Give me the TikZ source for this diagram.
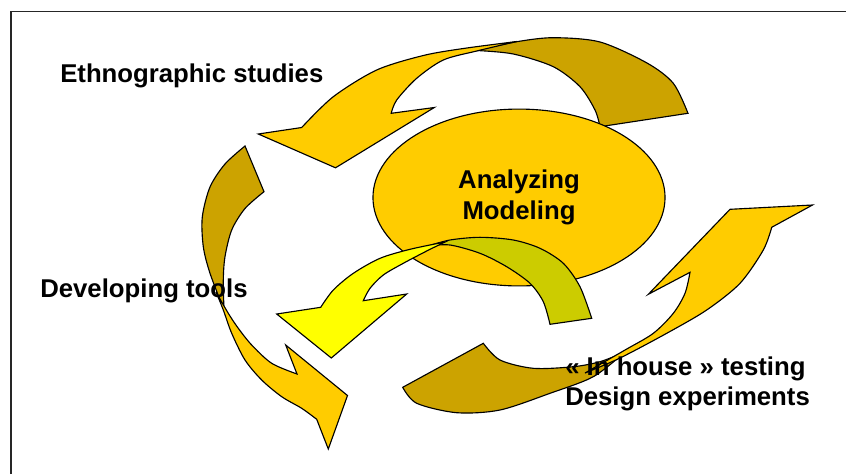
\documentclass[tikz,border=0pt]{standalone}
\usepackage{fontspec}
\setmainfont{Liberation Sans}
\usepackage{tikz}
\usetikzlibrary{shapes.geometric}

\definecolor{gold}{RGB}{255,204,0}
\definecolor{darkgold}{RGB}{204,163,0}
\definecolor{lemon}{RGB}{255,255,0}
\definecolor{darklemon}{RGB}{204,204,0}

\begin{document}
\begin{tikzpicture}[x=0.025cm,y=-0.025cm]
    \tikzstyle{outline}=[draw=black, line width=0.8pt, line join=miter]
    \tikzstyle{front}=[outline, fill=gold]
    \tikzstyle{back}=[outline, fill=darkgold]
    \tikzstyle{frontyellow}=[outline, fill=lemon]
    \tikzstyle{backyellow}=[outline, fill=darklemon]
    \tikzstyle{phasetext}=[
      inner sep=0pt,
      font=\bfseries\fontsize{18.3}{21.5}\selectfont,
    ]
    \tikzstyle{core}=[
      ellipse,
      outline,
      fill=gold,
      inner sep=0pt,
      minimum width=7.3cm,
      minimum height=4.42cm,
      align=center,
      phasetext,
    ]

    \useasboundingbox (0,0) rectangle (846,474);

    % frame
    \coordinate (frameBottom) at (11,474);
    \coordinate (frameCorner) at (11,11.7);
    \coordinate (frameRight) at (846,11.7);
    \draw[line width=1pt, draw=black!85] (frameBottom) -- (frameCorner) -- (frameRight);

    % ethnographic arrow (top)
    {
      \filldraw[back] plot[smooth] coordinates {(476.7,50) (516.7,41.7) (553.3,37.7) (600,42) (647,63) (673.3,83.3) (688,113.3)}
        -- (600,126.7)
        -- plot[smooth] coordinates {(600,126.7) (595,110) (580,86.7) (553.3,66.7) (513.3,54) (476.7,50.5)} -- cycle;
      \filldraw[front] plot[smooth] coordinates {(516.7,41.5) (463.3,48.5) (423.3,55.5) (376.7,70) (333.3,96.7) (301.7,127.5)}
        -- (258.3,134) -- (335.5,167.8) -- (434.3,107.5) -- (391.2,113.3)
        -- plot[smooth] coordinates {(391.2,113.3) (396.7,100) (416.7,78.3) (443.3,60) (476.7,51) (516.7,41.5)} -- cycle;
    }

    % analyzing / modeling
    \node[core] (analysis) at (519,197.5) {Analyzing\\Modeling};

    % developing arrow (left)
    {
      \filldraw[back] plot[smooth] coordinates {(245,146) (225,164) (210,187) (202.3,217) (203.3,246.7) (210,273.3) (224,310)}
        -- plot[smooth] coordinates {(224,310) (223.3,280) (225,256.7) (231.7,230) (245,208.5) (264,191.7)} -- cycle;
      \filldraw[front] plot[smooth] coordinates {(216,292) (223.3,310) (231.7,333.3) (245,360) (261.7,380) (281.7,396.7) (301.7,408.3) (316.7,419.3)}
        -- (328.3,449) -- (347.5,395.5) -- (285.7,345) -- (297,374)
        -- plot[smooth] coordinates {(297,374) (271.7,363.3) (251.7,345) (238.3,328.3) (228.3,313.3) (216,292)} -- cycle;
    }

    % feedback arrow (centre)
    {
      \filldraw[backyellow] plot[smooth] coordinates {(428,246) (450,240) (480,237.3) (513.3,240) (540,248.3) (563.3,263.3) (580,286.7) (591.7,318.3)}
        -- (550,324.3)
        -- plot[smooth] coordinates {(550,324.3) (543.3,301.7) (530,283.3) (506.7,266.7) (480,253.3) (450,245) (428,246)} -- cycle;
      \filldraw[frontyellow] plot[smooth] coordinates {(445,242) (410,249.3) (380,258.3) (353.3,273.3) (333.3,290) (320.7,307.3)}
        -- (276.7,314) -- (331.3,358) -- (406.7,294) -- (363.3,300.7)
        -- plot[smooth] coordinates {(363.3,300.7) (370,288.3) (383.3,275) (403.3,263.3) (426.7,251) (445,242)} -- cycle;
    }

    % testing arrow (bottom right)
    {
      \filldraw[back] (483.3,343.3) -- (402.7,387.3)
        -- plot[smooth] coordinates {(402.7,387.3) (416.7,403.3) (456.7,412.7) (500,410) (550,393.3) (593.3,376.7) (625,352)}
        -- plot[smooth] coordinates {(625,352) (600,361.7) (573.3,366.7) (533.3,368.3) (500,360) (483.3,343.3)} -- cycle;
      \filldraw[front] plot[smooth] coordinates {(585,373) (620,358) (666.7,333.3) (706.7,310) (740,283.3) (763.3,250) (771.7,227.3)}
        -- (812.5,205) -- (730,209.3) -- (648.3,294.3) -- (690,272.3)
        -- plot[smooth] coordinates {(690,272.3) (685,293.3) (673.3,313.3) (653.3,333.3) (625,350) (585,373)} -- cycle;
    }

    % labels
    \node[phasetext, anchor=base west] (ethno) at (60,82) {Ethnographic studies};
    \node[phasetext, anchor=base west] (tools) at (40,297) {Developing tools};
    \node[phasetext, anchor=base west] (testing) at (565,375) {« In house » testing};
    \node[phasetext, anchor=base west] (design) at (565,405) {Design experiments};
\end{tikzpicture}
\end{document}
